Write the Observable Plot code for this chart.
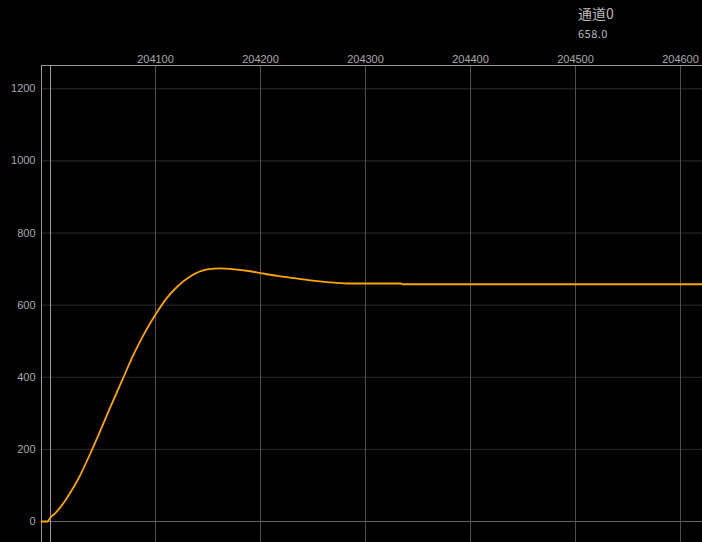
<!DOCTYPE html>
<html>
<head>
<meta charset="utf-8">
<script src="https://cdn.jsdelivr.net/npm/d3@7"></script>
<script src="https://cdn.jsdelivr.net/npm/@observablehq/plot@0.6"></script>
<style>
  html, body { margin: 0; padding: 0; background: #000; }
  #wrap { position: relative; width: 702px; height: 542px; overflow: hidden; background: #000; }
  #legend { position: absolute; z-index: 2; left: 578px; top: 4px; color: #bbb; font-family: "Noto Sans CJK SC", "Liberation Sans", sans-serif; }
  #legend .name { font-size: 14px; line-height: 18px; }
  #legend .val { font-size: 11px; line-height: 14px; margin-top: 4px; letter-spacing: 0.5px; }
</style>
</head>
<body>
<div id="wrap">
  <div id="legend"><div class="name"></div><div class="val"></div></div>
</div>
<script>
// Series (time vs. channel value)
const channelName = "通道0";
const currentValue = "658.0";
const time = [203991.4, 203997, 204000, 204004.8, 204009.5, 204014.3, 204019, 204023.8, 204028.6, 204038.1, 204047.6, 204057.1, 204068.3, 204079.3, 204088.9, 204100, 204111.1, 204120.7, 204133.3, 204149.2, 204161.9, 204173, 204190.5, 204200, 204215.9, 204231.7, 204247.6, 204263.5, 204282.6, 204334, 204335, 204621];
const value = [0, 0, 11, 24, 40, 59, 81, 104, 130, 190, 253, 318, 392, 464, 519, 574, 621, 651, 680, 699, 702, 700, 694, 689, 681, 675, 669, 664, 660, 660, 658, 658];
const xTicks = [204000, 204100, 204200, 204300, 204400, 204500, 204600];
const yTicks = [0, 200, 400, 600, 800, 1000, 1200];
const xDomain = [203991.43, 204620.95];
const yDomain = [-58.2, 1264.6];

const data = time.map((t, i) => ({t, v: value[i]}));

document.querySelector("#legend .name").textContent = channelName;
document.querySelector("#legend .val").textContent = currentValue;

const chart = Plot.plot({
  width: 702,
  height: 542,
  marginTop: 65,
  marginLeft: 41,
  marginRight: 0,
  marginBottom: 0,
  style: {background: "#000", color: "#aaa", fontFamily: "'Liberation Sans', sans-serif", fontSize: "11px"},
  x: {domain: xDomain, axis: "top", ticks: xTicks, tickSize: 0, tickPadding: 3,
      tickFormat: d => d === xTicks[0] ? "" : String(d), label: null},
  y: {domain: yDomain, ticks: yTicks, tickSize: 0, tickPadding: 6, tickFormat: d => String(d), label: null},
  marks: [
    Plot.ruleY(yTicks.slice(1), {stroke: "#2c2c2c", strokeWidth: 1}),
    Plot.ruleY([yTicks[0]], {stroke: "#666", strokeWidth: 1}),
    Plot.ruleX(xTicks.slice(1), {stroke: "#505050", strokeWidth: 1}),
    Plot.ruleX([xTicks[0]], {stroke: "#999", strokeWidth: 1}),
    Plot.ruleX([xDomain[0]], {stroke: "#999", strokeWidth: 1}),
    Plot.ruleY([yDomain[1]], {stroke: "#999", strokeWidth: 1}),
    Plot.line(data, {x: "t", y: "v", stroke: "#FFA500", strokeWidth: 1.8, curve: "monotone-x"})
  ]
});
chart.style.position = "absolute";
chart.style.left = "0";
chart.style.top = "0";
chart.style.zIndex = "1";
document.getElementById("wrap").appendChild(chart);
</script>
</body>
</html>
